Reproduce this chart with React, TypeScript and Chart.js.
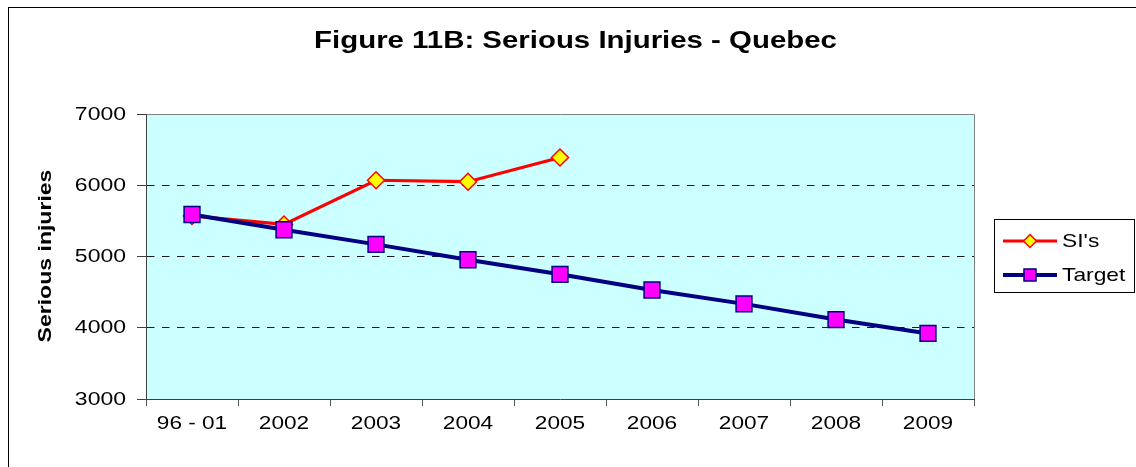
import React, { useEffect, useRef } from 'react';
import { Chart, registerables } from 'chart.js';

Chart.register(...registerables);

const categories = ['96 - 01', '2002', '2003', '2004', '2005', '2006', '2007', '2008', '2009'];
const siValues = [5570, 5450, 6070, 6050, 6390, null, null, null, null];
const targetValues = [5590, 5375, 5170, 4955, 4750, 4530, 4335, 4115, 3920];
const yMin = 3000;
const yMax = 7000;
const yStep = 1000;
const chartTitle = 'Figure 11B: Serious Injuries - Quebec';
const yAxisTitle = 'Serious injuries';
const seriesNames = ["SI's", 'Target'];

const FONT = "'Liberation Sans', Arial, sans-serif";

function stretchedText(ctx: CanvasRenderingContext2D, text: string, x: number, y: number, sx: number, align: CanvasTextAlign) {
  ctx.save();
  ctx.translate(x, y);
  ctx.scale(sx, 1);
  ctx.textAlign = align;
  ctx.fillText(text, 0, 0);
  ctx.restore();
}

const decorPlugin = {
  id: 'decor',
  beforeDraw(chart: any) {
    const { ctx, chartArea: ca } = chart;
    ctx.save();
    ctx.fillStyle = '#ffffff';
    ctx.fillRect(0, 0, chart.width, chart.height);
    ctx.strokeStyle = '#000000';
    ctx.lineWidth = 1;
    ctx.strokeRect(8.5, 7.5, chart.width + 20, chart.height + 20);
    ctx.fillStyle = '#CCFFFF';
    ctx.fillRect(ca.left, ca.top, ca.right - ca.left, ca.bottom - ca.top);
    ctx.strokeStyle = '#808080';
    ctx.beginPath();
    ctx.moveTo(ca.left, ca.top + 0.5);
    ctx.lineTo(ca.right + 0.5, ca.top + 0.5);
    ctx.lineTo(ca.right + 0.5, ca.bottom);
    ctx.stroke();
    ctx.restore();
  },
  afterDraw(chart: any) {
    const { ctx } = chart;
    ctx.save();
    ctx.fillStyle = '#000';
    ctx.textBaseline = 'alphabetic';

    // title
    ctx.font = `bold 24px ${FONT}`;
    stretchedText(ctx, chartTitle, 575.5, 48, 1.225, 'center');

    // tick labels (positions from the library's scales)
    ctx.font = `19px ${FONT}`;
    const ys = chart.scales.y;
    ys.ticks.forEach((t: any) => {
      const py = ys.getPixelForValue(t.value);
      ctx.textBaseline = 'middle';
      stretchedText(ctx, String(t.label), 126, py + 0.5, 1.21, 'right');
    });
    const xs = chart.scales.x;
    xs.ticks.forEach((t: any, i: number) => {
      const px = xs.getPixelForTick(i);
      ctx.textBaseline = 'alphabetic';
      stretchedText(ctx, String(t.label), px, 429, 1.19, 'center');
    });

    // y axis title
    ctx.save();
    ctx.translate(51, 256);
    ctx.rotate(-Math.PI / 2);
    ctx.scale(1.28, 1);
    ctx.font = `bold 18px ${FONT}`;
    ctx.textAlign = 'center';
    ctx.textBaseline = 'alphabetic';
    ctx.fillText(yAxisTitle, 0, 0);
    ctx.restore();

    // legend
    ctx.strokeStyle = '#000';
    ctx.lineWidth = 1;
    ctx.strokeRect(994.5, 219.5, 140, 73);
    const ds = chart.data.datasets;
    const rows = [241, 275];
    ds.forEach((d: any, i: number) => {
      const y = rows[i];
      ctx.strokeStyle = d.borderColor;
      ctx.lineWidth = d.borderWidth;
      ctx.beginPath();
      ctx.moveTo(1003, y);
      ctx.lineTo(1057, y);
      ctx.stroke();
      ctx.fillStyle = d.pointBackgroundColor;
      ctx.strokeStyle = d.pointBorderColor;
      ctx.lineWidth = 1.5;
      ctx.beginPath();
      if (d.pointStyle === 'rectRot') {
        const r = 6.5;
        ctx.moveTo(1030 - r, y);
        ctx.lineTo(1030, y - r);
        ctx.lineTo(1030 + r, y);
        ctx.lineTo(1030, y + r);
        ctx.closePath();
      } else {
        ctx.rect(1030 - 6, y - 6, 12, 12);
      }
      ctx.fill();
      ctx.stroke();
      ctx.fillStyle = '#000';
      ctx.font = `19px ${FONT}`;
      ctx.textBaseline = 'middle';
      stretchedText(ctx, d.label, 1062, y + 1, 1.2, 'left');
    });
    ctx.restore();
  },
};

export default function App() {
  const ref = useRef<HTMLCanvasElement>(null);
  useEffect(() => {
    const chart = new Chart(ref.current as HTMLCanvasElement, {
      type: 'line',
      data: {
        labels: categories,
        datasets: [
          {
            label: seriesNames[0],
            data: siValues,
            borderColor: '#FF0000',
            backgroundColor: '#FF0000',
            borderWidth: 3.2,
            pointStyle: 'rectRot',
            pointRadius: 8.5,
            pointBackgroundColor: '#FFFF00',
            pointBorderColor: '#FF0000',
            pointBorderWidth: 1.5,
            tension: 0,
            spanGaps: false,
            order: 1,
          } as any,
          {
            label: seriesNames[1],
            data: targetValues,
            borderColor: '#000080',
            backgroundColor: '#000080',
            borderWidth: 4,
            pointStyle: 'rect',
            pointRadius: 11.2,
            pointBackgroundColor: '#FF00FF',
            pointBorderColor: '#000080',
            pointBorderWidth: 1.5,
            tension: 0,
            order: 0,
          } as any,
        ],
      },
      options: {
        responsive: false,
        devicePixelRatio: 1,
        animation: false,
        events: [],
        layout: { padding: { top: 114, right: 162, left: 0, bottom: 0 } },
        plugins: {
          legend: { display: false },
          title: { display: false },
          tooltip: { enabled: false },
        },
        scales: {
          x: {
            type: 'category',
            offset: true,
            grid: {
              offset: true,
              drawOnChartArea: false,
              drawTicks: true,
              tickLength: 7,
              tickColor: '#595959',
            },
            border: { display: true, color: '#404040', width: 1 },
            ticks: {
              color: 'rgba(0,0,0,0)',
              font: { family: FONT, size: 18 },
              padding: 5,
              maxRotation: 0,
              autoSkip: false,
            },
            afterFit: (s: any) => {
              s.height = 68;
            },
          },
          y: {
            min: yMin,
            max: yMax,
            grid: {
              color: (c: any) =>
                c.tick && (c.tick.value === yMin || c.tick.value === yMax) ? 'rgba(0,0,0,0)' : '#1a1a1a',
              tickBorderDash: [],
              tickColor: '#404040',
              tickLength: 9,
              lineWidth: 1,
            },
            border: { display: true, color: '#404040', width: 1, dash: [7.5, 7.5] },
            ticks: {
              stepSize: yStep,
              color: 'rgba(0,0,0,0)',
              font: { family: FONT, size: 18 },
              padding: 8,
              callback: (v: any) => String(v),
            },
            afterFit: (s: any) => {
              s.width = 146;
            },
          },
        },
      },
      plugins: [decorPlugin],
    });
    return () => chart.destroy();
  }, []);
  return (
    <div style={{ position: 'fixed', left: 0, top: 0, width: 1136, height: 467, background: '#fff' }}>
      <canvas ref={ref} width={1136} height={467} style={{ width: 1136, height: 467, display: 'block' }} />
    </div>
  );
}
